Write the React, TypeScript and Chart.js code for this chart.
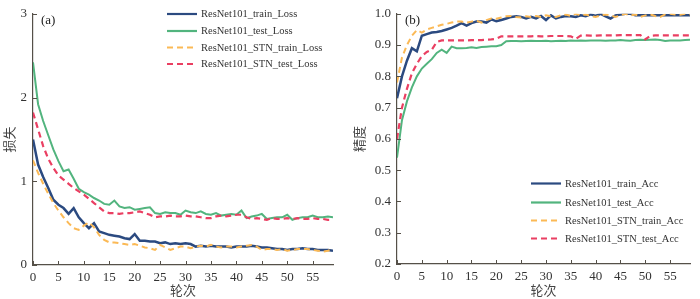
import React, { useEffect, useRef } from "react";
import { Chart, registerables } from "chart.js";

Chart.register(...registerables);

const epochs: number[] = Array.from({ length: 60 }, (_, i) => i);

const trainLoss = [1.5,1.2,1.05,0.92,0.78,0.72,0.68,0.61,0.68,0.57,0.5,0.44,0.5,0.4,0.38,0.36,0.35,0.34,0.32,0.31,0.37,0.29,0.29,0.28,0.28,0.26,0.27,0.25,0.26,0.25,0.26,0.25,0.22,0.23,0.22,0.23,0.22,0.22,0.22,0.21,0.22,0.22,0.22,0.23,0.22,0.21,0.21,0.2,0.19,0.19,0.18,0.19,0.19,0.2,0.19,0.19,0.18,0.18,0.18,0.17];
const testLoss = [2.42,1.92,1.72,1.55,1.38,1.24,1.12,1.14,1.03,0.91,0.87,0.84,0.8,0.77,0.73,0.72,0.77,0.7,0.68,0.69,0.66,0.67,0.68,0.69,0.62,0.61,0.63,0.62,0.62,0.6,0.65,0.63,0.62,0.64,0.61,0.6,0.62,0.59,0.6,0.61,0.6,0.65,0.56,0.58,0.59,0.61,0.55,0.56,0.57,0.57,0.6,0.54,0.56,0.57,0.57,0.59,0.57,0.57,0.58,0.57];
const stnTrainLoss = [1.25,1.1,0.97,0.85,0.74,0.65,0.57,0.5,0.44,0.42,0.47,0.51,0.45,0.36,0.3,0.27,0.27,0.26,0.25,0.24,0.25,0.23,0.21,0.2,0.18,0.24,0.21,0.18,0.2,0.22,0.22,0.2,0.22,0.23,0.22,0.24,0.22,0.21,0.22,0.22,0.21,0.22,0.23,0.24,0.22,0.18,0.19,0.19,0.18,0.19,0.17,0.18,0.19,0.19,0.19,0.18,0.17,0.16,0.17,0.19];
const stnTestLoss = [1.82,1.62,1.42,1.27,1.16,1.07,1.02,0.97,0.92,0.88,0.84,0.79,0.74,0.69,0.64,0.62,0.62,0.61,0.62,0.62,0.63,0.64,0.62,0.6,0.57,0.58,0.58,0.59,0.58,0.58,0.59,0.58,0.58,0.57,0.56,0.56,0.58,0.59,0.58,0.59,0.6,0.6,0.57,0.55,0.56,0.55,0.54,0.56,0.55,0.55,0.56,0.55,0.56,0.55,0.55,0.56,0.55,0.55,0.54,0.54];

const trainAcc = [0.73,0.8,0.85,0.89,0.88,0.93,0.935,0.94,0.942,0.945,0.95,0.955,0.962,0.97,0.962,0.97,0.975,0.975,0.972,0.982,0.976,0.98,0.985,0.99,0.992,0.99,0.985,0.99,0.985,0.993,0.98,0.995,0.985,0.99,0.993,0.992,0.99,0.995,0.992,0.998,0.993,1.0,0.992,0.985,0.995,0.998,1.0,1.0,0.995,0.995,0.995,0.995,0.995,0.995,0.995,0.995,0.995,0.995,0.995,0.995];
const testAcc = [0.54,0.66,0.72,0.765,0.8,0.825,0.84,0.855,0.875,0.885,0.875,0.895,0.89,0.89,0.891,0.893,0.891,0.894,0.895,0.896,0.896,0.9,0.912,0.913,0.913,0.912,0.913,0.914,0.913,0.913,0.914,0.912,0.913,0.914,0.913,0.915,0.914,0.915,0.914,0.915,0.915,0.915,0.914,0.915,0.915,0.916,0.915,0.914,0.916,0.917,0.916,0.917,0.918,0.916,0.913,0.915,0.915,0.915,0.916,0.917];
const stnTrainAcc = [0.78,0.86,0.9,0.93,0.948,0.94,0.95,0.955,0.96,0.965,0.968,0.972,0.975,0.975,0.972,0.975,0.978,0.972,0.98,0.985,0.984,0.988,0.992,0.993,0.99,0.988,0.992,0.99,0.993,0.99,0.995,0.992,0.99,0.995,0.998,0.993,1.0,0.995,0.998,0.993,0.99,0.995,0.998,0.995,0.99,0.995,1.0,0.995,0.998,0.99,0.995,0.998,0.993,0.99,0.998,1.0,0.998,0.997,1.0,0.998];
const stnTestAcc = [0.6,0.7,0.76,0.81,0.84,0.865,0.878,0.885,0.91,0.915,0.915,0.915,0.915,0.915,0.915,0.916,0.916,0.916,0.917,0.918,0.92,0.928,0.928,0.928,0.928,0.928,0.928,0.928,0.929,0.928,0.928,0.929,0.929,0.929,0.929,0.928,0.92,0.93,0.931,0.93,0.93,0.931,0.931,0.931,0.931,0.932,0.932,0.932,0.932,0.932,0.918,0.93,0.931,0.931,0.931,0.931,0.931,0.931,0.931,0.931];

const lossLabels = ["ResNet101_train_Loss", "ResNet101_test_Loss", "ResNet101_STN_train_Loss", "ResNet101_STN_test_Loss"];
const accLabels = ["ResNet101_train_Acc", "ResNet101_test_Acc", "ResNet101_STN_train_Acc", "ResNet101_STN_test_Acc"];

const COLORS = ["#2b4a80", "#52b47e", "#fbb955", "#ea3f62"];
const DASHES: number[][] = [[], [], [6, 4], [6, 4]];
const WIDTHS = [2.5, 2, 2, 2.2];
const SERIF = "'Liberation Serif', 'Noto Sans CJK SC', serif";
const AXIS = "#555048";

function makeDatasets(series: number[][], labels: string[]) {
  return series.map((vals, k) => ({
    label: labels[k],
    data: vals.map((v, i) => ({ x: epochs[i], y: v })),
    borderColor: COLORS[k],
    backgroundColor: COLORS[k],
    borderWidth: WIDTHS[k],
    borderDash: DASHES[k],
    pointRadius: 0,
    tension: 0,
    fill: false,
    order: 3 - k,
  }));
}

function buildConfig(opts: {
  series: number[][];
  labels: string[];
  yMin: number;
  yMax: number;
  yStep: number;
  yDecimals: number;
  yTitle: string;
  yWidth: number;
  xHeight: number;
  padRight: number;
  tag: string;
  legendX: number;
  legendRows: number[];
}): any {
  const innerTicks = {
    id: "innerTicks",
    afterDraw(chart: any) {
      const ctx = chart.ctx;
      const xs = chart.scales.x;
      const ys = chart.scales.y;
      const area = chart.chartArea;
      ctx.save();
      ctx.strokeStyle = AXIS;
      ctx.lineWidth = 1;
      xs.ticks.forEach((_: any, i: number) => {
        const px = Math.round(xs.getPixelForTick(i)) + 0.5;
        ctx.beginPath();
        ctx.moveTo(px, area.bottom);
        ctx.lineTo(px, area.bottom - 4);
        ctx.stroke();
      });
      ys.ticks.forEach((_: any, i: number) => {
        const py = Math.round(ys.getPixelForTick(i)) + 0.5;
        ctx.beginPath();
        ctx.moveTo(area.left, py);
        ctx.lineTo(area.left + 4, py);
        ctx.stroke();
      });
      ctx.fillStyle = "#222";
      ctx.font = "13px " + SERIF;
      ctx.textBaseline = "middle";
      ctx.textAlign = "left";
      ctx.fillText(opts.tag, area.left + 8, area.top + 7);
      ctx.font = "10.5px " + SERIF;
      chart.data.datasets.forEach((ds: any, k: number) => {
        const y = opts.legendRows[k];
        ctx.beginPath();
        ctx.strokeStyle = ds.borderColor;
        ctx.lineWidth = 2.2;
        ctx.setLineDash(ds.borderDash || []);
        ctx.moveTo(opts.legendX, y);
        ctx.lineTo(opts.legendX + 30, y);
        ctx.stroke();
        ctx.setLineDash([]);
        ctx.fillStyle = "#333";
        ctx.fillText(ds.label, opts.legendX + 34, y + 0.5);
      });
      ctx.restore();
    },
  };

  return {
    type: "line",
    data: { datasets: makeDatasets(opts.series, opts.labels) },
    options: {
      animation: false,
      responsive: false,
      events: [],
      layout: { padding: { top: 7, right: opts.padRight, left: 0, bottom: 0 } },
      plugins: { legend: { display: false }, tooltip: { enabled: false } },
      scales: {
        x: {
          type: "linear",
          min: 0,
          max: 59,
          grid: { display: true, drawOnChartArea: false, drawTicks: false },
          border: { display: true, color: AXIS, width: 1.2 },
          ticks: {
            stepSize: 5,
            includeBounds: false,
            padding: 5,
            color: "#333",
            font: { family: SERIF, size: 13 },
            maxRotation: 0,
          },
          title: {
            display: true,
            text: "轮次",
            color: "#444",
            font: { family: SERIF, size: 13 },
            padding: { top: 0, bottom: 0 },
          },
          afterFit(scale: any) {
            scale.height = opts.xHeight;
          },
        },
        y: {
          min: opts.yMin,
          max: opts.yMax,
          grid: { display: true, drawOnChartArea: false, drawTicks: false },
          border: { display: true, color: AXIS, width: 1.2 },
          ticks: {
            stepSize: opts.yStep,
            padding: 6,
            color: "#333",
            font: { family: SERIF, size: 13 },
            callback: (v: any) => Number(v).toFixed(opts.yDecimals),
          },
          title: {
            display: true,
            text: opts.yTitle,
            color: "#444",
            font: { family: SERIF, size: 13 },
            padding: { top: 3, bottom: 0 },
          },
          afterFit(scale: any) {
            scale.width = opts.yWidth;
          },
        },
      },
    },
    plugins: [innerTicks],
  };
}

function ChartCanvas({ config }: { config: () => any }) {
  const ref = useRef<HTMLCanvasElement | null>(null);
  useEffect(() => {
    if (!ref.current) return;
    const chart = new Chart(ref.current, config());
    return () => chart.destroy();
  }, []);
  return <canvas ref={ref} width={350} height={299} style={{ display: "block", width: 350, height: 299 }} />;
}

export default function App() {
  return (
    <div style={{ position: "absolute", left: 0, top: 0, width: 700, height: 299, display: "flex", background: "#fff" }}>
      <ChartCanvas
        config={() =>
          buildConfig({
            series: [trainLoss, testLoss, stnTrainLoss, stnTestLoss],
            labels: lossLabels,
            yMin: 0,
            yMax: 3,
            yStep: 1,
            yDecimals: 0,
            yTitle: "损失",
            yWidth: 33,
            xHeight: 34,
            padRight: 17,
            tag: "(a)",
            legendX: 167,
            legendRows: [14, 31, 47.5, 64],
          })
        }
      />
      <ChartCanvas
        config={() =>
          buildConfig({
            series: [trainAcc, testAcc, stnTrainAcc, stnTestAcc],
            labels: accLabels,
            yMin: 0.2,
            yMax: 1.0,
            yStep: 0.1,
            yDecimals: 1,
            yTitle: "精度",
            yWidth: 47,
            xHeight: 35,
            padRight: 10,
            tag: "(b)",
            legendX: 181,
            legendRows: [183.5, 202.5, 220.5, 238.5],
          })
        }
      />
    </div>
  );
}
